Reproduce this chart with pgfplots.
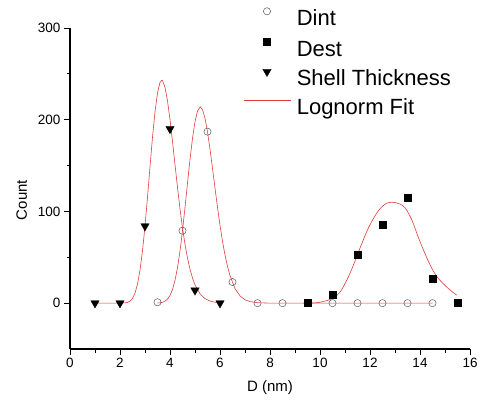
\documentclass[border=0pt]{standalone}
\usepackage{fontspec}
\setmainfont{Liberation Sans}
\usepackage{pgfplots}
\pgfplotsset{compat=1.18}
\definecolor{fitred}{RGB}{225,60,60}
\definecolor{dintgray}{RGB}{90,90,90}
\pgfplotsset{
  markleg/.style={legend image code/.code={\path[draw=none,fill=none] (0pt,0pt) rectangle (47pt,0.1pt); \draw[##1] plot coordinates {(23.5pt,8.5pt)};}},
  lineleg/.style={legend image code/.code={\draw[##1] (0pt,8.5pt) -- (47pt,8.5pt);}},
}
\begin{document}
\begin{tikzpicture}
\path[use as bounding box] (0pt,0pt) rectangle (481pt,408pt);
\begin{axis}[
  at={(70pt,59pt)}, anchor=south west,
  scale only axis, width=400pt, height=321pt,
  xmin=0, xmax=16, ymin=-50, ymax=300,
  axis x line*=bottom, axis y line*=left,
  axis line style={-, line width=1.1pt, black},
  xtick={0,2,...,16}, ytick={0,100,200,300},
  minor x tick num=1, minor y tick num=1,
  tick align=outside, major tick length=6pt, minor tick length=3.5pt,
  every tick/.style={black, line width=1pt},
  tick label style={font=\fontsize{13.5}{15}\selectfont},
  /pgf/number format/assume math mode=true,
  xlabel={D (nm)}, ylabel={Count},
  label style={font=\fontsize{15}{17}\selectfont},
  xlabel style={at={(axis description cs:0.5,-0.1215)}, anchor=center},
  ylabel style={at={(axis description cs:-0.121,0.464)}, anchor=center},
  legend style={draw=none, fill=none, at={(axis description cs:0.4325,1.0639)}, anchor=north west,
    font=\fontsize{22}{25}\selectfont, inner sep=0pt, row sep=8.5pt, column sep=6pt,
    nodes={inner sep=0pt, text height=16pt, text depth=4.5pt}},
  legend cell align=left,
  clip=false,
]
% Lognormal fit curves
\addplot[fitred, line width=0.6pt, forget plot] coordinates {
(1,0) (2,0) (2.2,0.3) (2.3,0.8) (2.4,2.2) (2.5,5.2) (2.6,10.9) (2.7,20.7) (2.8,35.9) (2.9,57.0)
(3.0,84.0) (3.1,115.4) (3.2,148.7) (3.3,180.9) (3.4,208.6) (3.5,229.1) (3.6,240.7) (3.67,243.0)
(3.7,242.6) (3.8,235.4) (3.9,220.6) (4.0,200.2) (4.1,176.3) (4.2,151.0) (4.3,126.1) (4.4,102.8)
(4.5,82.0) (4.6,64.1) (4.7,49.1) (4.8,37.0) (4.9,27.4) (5.0,19.9) (5.2,10.2) (5.4,4.9) (5.6,2.3)
(5.8,1.0) (6.0,0.4)};
\addplot[fitred, line width=0.6pt, forget plot] coordinates {
(3.5,0.1) (3.6,0.4) (3.7,0.9) (3.8,2.1) (3.9,4.4) (4.0,8.4) (4.1,14.9) (4.2,24.8) (4.3,38.7)
(4.4,56.8) (4.5,79.0) (4.6,104.2) (4.7,130.8) (4.8,156.7) (4.9,179.7) (5.0,197.8) (5.1,209.5)
(5.21,214.0) (5.3,211.1) (5.4,201.6) (5.5,186.8) (5.6,168.0) (5.7,147.1) (5.8,125.4) (5.9,104.4)
(6.0,84.8) (6.1,67.4) (6.2,52.5) (6.3,40.1) (6.4,30.0) (6.6,15.9) (6.8,7.9) (7.0,3.7) (7.2,1.7)
(7.5,0.45) (8.0,0) (14.5,0)};
\addplot[fitred, line width=0.6pt, smooth, forget plot] coordinates {
(9.5,0) (9.8,0.3) (10.0,1) (10.3,3) (10.5,5) (10.8,12) (11.07,25) (11.33,41) (11.6,60) (11.87,78)
(12.13,92) (12.4,103) (12.67,109) (12.93,110) (13.2,108) (13.4,104) (13.67,91) (13.93,72)
(14.2,54) (14.47,38) (14.73,27) (15.13,16) (15.47,8.7)};
% Data
\addplot[only marks, mark=o, mark size=3.6pt, mark options={draw=dintgray, line width=0.5pt}, markleg]
coordinates {(3.5,1) (4.5,79) (5.5,187) (6.5,23) (7.5,0) (8.5,0) (9.5,0) (10.5,0) (11.5,0) (12.5,0) (13.5,0) (14.5,0)};
\addlegendentry{Dint}
\addplot[only marks, mark=square*, mark size=3.5pt, black, markleg]
coordinates {(9.5,0) (10.5,9) (11.5,53) (12.5,86) (13.5,115) (14.5,27) (15.5,1)};
\addlegendentry{Dest}
\addplot[only marks, mark=triangle*, mark size=4.8pt, mark options={rotate=180}, black, markleg]
coordinates {(1,0) (2,0) (3,84) (4,190) (5,14) (6,0)};
\addlegendentry{Shell Thickness}
\addlegendimage{fitred, line width=0.6pt, lineleg}
\addlegendentry{Lognorm Fit}
\end{axis}
\end{tikzpicture}
\end{document}
